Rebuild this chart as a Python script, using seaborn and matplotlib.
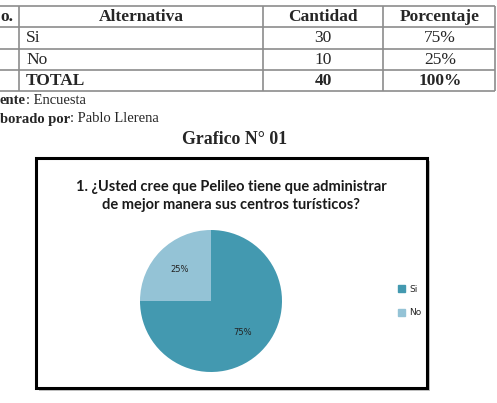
import matplotlib
matplotlib.use("Agg")
import matplotlib.pyplot as plt
import matplotlib.patches as mpatches
import seaborn as sns

# ---- data ----
alternativas = ["Si", "No"]
cantidades = [30, 10]
porcentajes = [75, 25]
total_label = "TOTAL"
total_cantidad = 40
total_porcentaje = "100%"
header = ["o.", "Alternativa", "Cantidad", "Porcentaje"]
chart_title = "1. ¿Usted cree que Pelileo tiene que administrar\nde mejor manera sus centros turísticos?"
colors = ["#4399b0", "#94c3d6"]

sns.set_theme(style="white")
plt.rcParams['font.family'] = ['DejaVu Sans']

W, H = 497, 403
fig = plt.figure(figsize=(W / 100, H / 100), dpi=100)
fig.patch.set_facecolor("white")

# overlay axes in pixel coordinates
ov = fig.add_axes([0, 0, 1, 1], zorder=0)
ov.set_xlim(0, W)
ov.set_ylim(H, 0)
ov.axis("off")

serif = "Liberation Serif"
lc = "#8c8c8c"
# table lines
rows_y = [6, 27, 49, 70, 91]
cols_x = [19, 263, 383, 495]
for y in rows_y:
    ov.plot([0, cols_x[-1]], [y, y], color=lc, lw=1.2, solid_capstyle="butt")
for x in cols_x:
    ov.plot([x, x], [rows_y[0], rows_y[-1]], color=lc, lw=1.2, solid_capstyle="butt")

fs_tab = 12.5
centers = [0, 141, 323, 440]
ymid = [(rows_y[i] + rows_y[i + 1]) / 2 + 0.5 for i in range(4)]
ov.text(0, ymid[0], header[0], ha="left", va="center", fontsize=fs_tab, fontweight="bold", family=serif)
for j in range(1, 4):
    ov.text(centers[j], ymid[0], header[j], ha="center", va="center", fontsize=fs_tab,
            fontweight="bold", family=serif)
for i, (a, c, p) in enumerate(zip(alternativas, cantidades, porcentajes)):
    ov.text(26, ymid[i + 1], a, ha="left", va="center", fontsize=fs_tab, family=serif)
    ov.text(centers[2], ymid[i + 1], str(c), ha="center", va="center", fontsize=fs_tab, family=serif)
    ov.text(centers[3], ymid[i + 1], f"{p}%", ha="center", va="center", fontsize=fs_tab, family=serif)
ov.text(26, ymid[3], total_label, ha="left", va="center", fontsize=fs_tab, fontweight="bold", family=serif)
ov.text(centers[2], ymid[3], str(total_cantidad), ha="center", va="center", fontsize=fs_tab,
        fontweight="bold", family=serif)
ov.text(centers[3], ymid[3], total_porcentaje, ha="center", va="center", fontsize=fs_tab,
        fontweight="bold", family=serif)

# source lines
t1 = ov.text(0, 101, "ente", ha="left", va="center", fontsize=10.5, fontweight="bold", family=serif)
ov.annotate(": Encuesta", xycoords=t1, xy=(1, 0.5), va="center", ha="left", fontsize=10.5, family=serif)
t2 = ov.text(0, 119, "borado por", ha="left", va="center", fontsize=10.5, fontweight="bold", family=serif)
ov.annotate(": Pablo Llerena", xycoords=t2, xy=(1, 0.5), va="center", ha="left", fontsize=10.5, family=serif)

ov.text(235, 139, "Grafico N° 01", ha="center", va="center", fontsize=12.8, fontweight="bold", family=serif)

# chart box with shadow
bx0, by0, bx1, by1 = 36, 158, 427, 388
ov.add_patch(mpatches.Rectangle((bx0 + 3, by0 + 3), bx1 - bx0, by1 - by0, facecolor="#c4c4c4",
                                edgecolor="none", zorder=1))
ov.add_patch(mpatches.Rectangle((bx0, by0), bx1 - bx0, by1 - by0, facecolor="white",
                                edgecolor="black", lw=2.2, zorder=2))
ov.text(231, 196, chart_title, ha="center", va="center", fontsize=10.5, fontweight="bold",
        family="Lato", color="#1a1a1a", linespacing=1.3, zorder=3)

# pie
cx, cy, r = 211, 301, 71
pax = fig.add_axes([(cx - r) / W, 1 - (cy + r) / H, 2 * r / W, 2 * r / H], zorder=2)
wedges, texts, autotexts = pax.pie(cantidades, colors=colors, startangle=90, counterclock=False,
                                   autopct="%1.0f%%", pctdistance=0.62,
                                   wedgeprops=dict(linewidth=0),
                                   textprops=dict(fontsize=6, color="#222222"))
pax.set_xlim(-1, 1)
pax.set_ylim(-1, 1)
pax.set_aspect("equal")

handles = [mpatches.Patch(color=c, label=l) for c, l in zip(colors, alternativas)]
fig.legend(handles=handles, loc="center left", bbox_to_anchor=(390 / W, 1 - 301 / H),
           frameon=False, fontsize=6.5, handlelength=0.8, handleheight=0.8, handletextpad=0.4,
           labelspacing=1.6)

fig.savefig("out.png", dpi=100, facecolor="white")
